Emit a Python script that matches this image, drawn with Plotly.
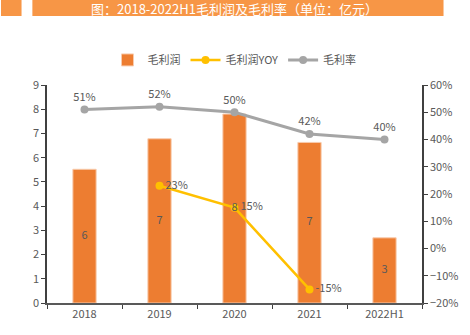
import plotly.graph_objects as go

# Gross profit (亿元), YoY growth and gross margin, 2018–2022H1
years = ["2018", "2019", "2020", "2021", "2022H1"]
gross_profit = [5.52, 6.78, 7.80, 6.63, 2.69]
profit_yoy = [None, 0.23, 0.15, -0.15, None]
gross_margin = [0.51, 0.52, 0.50, 0.42, 0.40]

FONT = "Noto Sans CJK SC"
GREY_TXT = "#595959"

fig = go.Figure()

fig.add_trace(go.Bar(
    x=years, y=gross_profit, name="毛利润",
    marker=dict(color="#ED7D31", line=dict(color="#F8CBAD", width=1)),
    width=0.31,
))

fig.add_trace(go.Scatter(
    x=years, y=profit_yoy, name="毛利润YOY", yaxis="y2",
    mode="lines+markers+text",
    line=dict(color="#FFC000", width=2.5),
    marker=dict(color="#FFC000", size=8),
    texttemplate="%{y:.0%}", textposition="middle right",
    textfont=dict(color=GREY_TXT, size=11, family=FONT),
))

fig.add_trace(go.Scatter(
    x=years, y=gross_margin, name="毛利率", yaxis="y2",
    mode="lines+markers+text",
    line=dict(color="#A5A5A5", width=3),
    marker=dict(color="#A5A5A5", size=8),
    texttemplate="%{y:.0%}", textposition="top center",
    textfont=dict(color=GREY_TXT, size=11, family=FONT),
))

# Bar value labels, centred in each bar, drawn on top of the lines
fig.add_trace(go.Scatter(
    x=years, y=[v / 2 for v in gross_profit], yaxis="y3",
    mode="text", text=[f"{v:.0f}" for v in gross_profit],
    textposition="middle center",
    textfont=dict(color=GREY_TXT, size=11, family=FONT),
    showlegend=False, hoverinfo="skip",
))

# Title banner
fig.add_shape(type="rect", xref="paper", yref="paper",
              x0=-0.1227, x1=-0.0679, y0=1.3165, y1=1.40,
              fillcolor="#F79646", line=dict(width=0), layer="below")
fig.add_shape(type="rect", xref="paper", yref="paper",
              x0=-0.039, x1=1.0574, y0=1.3165, y1=1.40,
              fillcolor="#F79646", line=dict(width=0), layer="below")
fig.add_annotation(text="图：2018-2022H1毛利润及毛利率（单位：亿元）",
                   xref="paper", yref="paper", x=0.50, y=1.352,
                   xanchor="center", yanchor="middle", showarrow=False,
                   font=dict(color="white", size=13, family=FONT))

fig.update_layout(
    width=470, height=335,
    margin=dict(l=47, r=40, t=85, b=32),
    paper_bgcolor="white", plot_bgcolor="white",
    font=dict(family=FONT, color=GREY_TXT, size=11),
    showlegend=True,
    legend=dict(orientation="h", x=0.5, xanchor="center", y=1.115, yanchor="middle",
                font=dict(size=11, color=GREY_TXT, family=FONT),
                itemwidth=30, tracegroupgap=0),
    bargap=0.69,
    xaxis=dict(type="category", showline=True, linecolor="#595959", linewidth=1.5,
               ticks="outside", tickson="boundaries", ticklen=4, tickcolor="#404040",
               tickfont=dict(size=11, color=GREY_TXT), showgrid=False),
    yaxis=dict(range=[0, 9], dtick=1, showline=True, linecolor="#404040", linewidth=1.5,
               ticks="outside", ticklen=4, tickcolor="#404040",
               tickfont=dict(size=11, color=GREY_TXT), showgrid=False, zeroline=False),
    yaxis2=dict(range=[-0.2, 0.6], dtick=0.1, tickformat=".0%", overlaying="y", side="right",
                showline=True, linecolor="#404040", linewidth=1.5,
                ticks="outside", ticklen=4, tickcolor="#404040",
                tickfont=dict(size=11, color=GREY_TXT), showgrid=False, zeroline=False),
    yaxis3=dict(range=[0, 9], overlaying="y", visible=False),
)

fig.write_html("out.html")
